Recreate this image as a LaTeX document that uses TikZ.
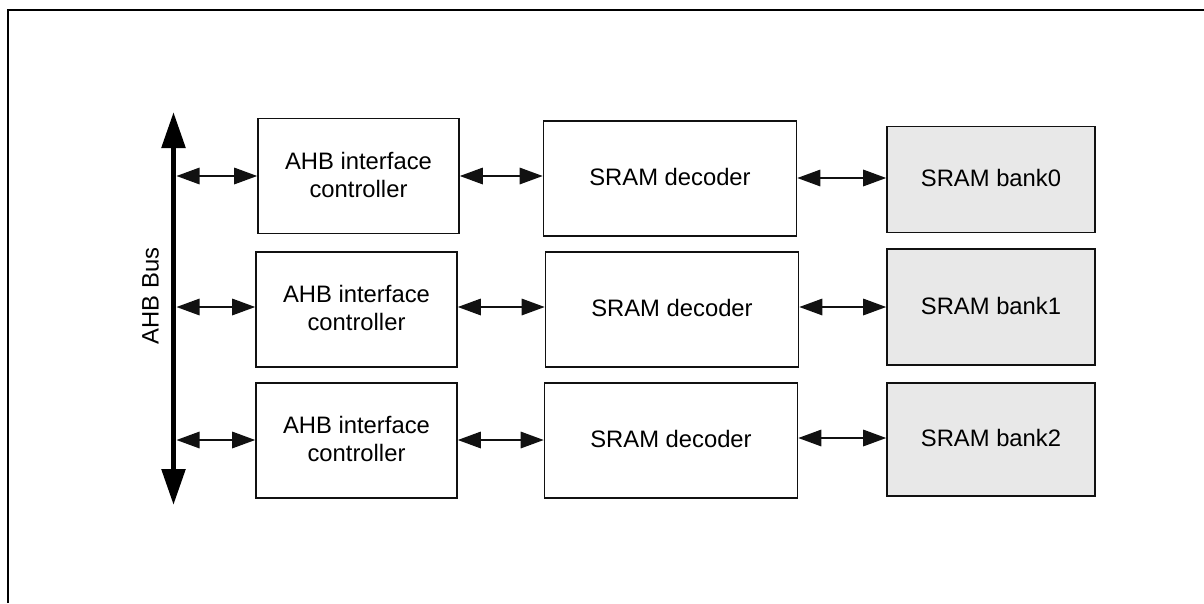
\documentclass[tikz,border=0pt]{standalone}
\usepackage{fontspec}
\setmainfont{Liberation Sans}
\usetikzlibrary{arrows.meta}
\definecolor{ink}{HTML}{111111}
\definecolor{bankfill}{HTML}{E8E8E8}
\tikzset{
  blockbox/.style={draw=ink, line width=1.6pt, inner sep=0pt, align=center,
    font=\fontsize{23.8}{28}\selectfont, text depth=3pt},
  ahbbox/.style={blockbox, minimum width=201pt, minimum height=115pt},
  decbox/.style={blockbox, minimum width=253pt, minimum height=115pt},
  bankbox/.style={blockbox, fill=bankfill, minimum width=208pt, minimum height=106pt},
  biarrow/.style={draw=ink, line width=1.5pt,
    {Triangle[length=23pt,width=16.5pt]}-{Triangle[length=23pt,width=16.5pt]}},
  busarrow/.style={draw=black, line width=5.5pt,
    {Triangle[length=36pt,width=23pt]}-{Triangle[length=36pt,width=23pt]}},
  frameline/.style={draw=black, line width=2.2pt}
}
\begin{document}
\begin{tikzpicture}[x=1pt,y=-1pt]
\useasboundingbox (0,0) rectangle (1204,603);
% frame (top and left edges visible)
\coordinate (fbl) at (7.7,603);
\coordinate (ftl) at (7.7,10);
\coordinate (ftr) at (1204,10);
\draw[frameline] (fbl) -- (ftl) -- (ftr);

% bus
\coordinate (bustop) at (173.5,112);
\coordinate (busbot) at (173.5,505);
\draw[busarrow] (bustop) -- (busbot);
\node[rotate=90, font=\fontsize{23.8}{28}\selectfont] (buslabel) at (150.5,296) {AHB Bus};

% column 1
\node[ahbbox] (A0) at (358.5,176) {AHB interface\\controller};
\node[ahbbox] (A1) at (356.5,309.5) {AHB interface\\controller};
\node[ahbbox] (A2) at (356.5,440.5) {AHB interface\\controller};
% column 2
\node[decbox] (D0) at (670,178.5) {SRAM decoder};
\node[decbox] (D1) at (672,309.5) {SRAM decoder};
\node[decbox] (D2) at (671,440.5) {SRAM decoder};
% column 3
\node[bankbox] (K0) at (991,179.5) {SRAM bank0};
\node[bankbox, minimum height=116pt] (K1) at (991,307) {SRAM bank1};
\node[bankbox, minimum height=113pt] (K2) at (991,439.5) {SRAM bank2};

% bus taps
\coordinate (b0) at (176.5,176);
\coordinate (b1) at (176.5,307);
\coordinate (b2) at (176.5,440);
\draw[biarrow] (b0) -- (b0 -| A0.west);
\draw[biarrow] (b1) -- (b1 -| A1.west);
\draw[biarrow] (b2) -- (b2 -| A2.west);

% controller to decoder
\draw[biarrow] (A0.east |- b0) -- (D0.west |- b0);
\draw[biarrow] (A1.east |- b1) -- (D1.west |- b1);
\draw[biarrow] (A2.east |- b2) -- (D2.west |- b2);

% decoder to bank
\coordinate (r0) at (0,178);
\coordinate (r1) at (0,307);
\coordinate (r2) at (0,438);
\draw[biarrow] (D0.east |- r0) -- (K0.west |- r0);
\draw[biarrow] (D1.east |- r1) -- (K1.west |- r1);
\draw[biarrow] (D2.east |- r2) -- (K2.west |- r2);
\end{tikzpicture}
\end{document}
